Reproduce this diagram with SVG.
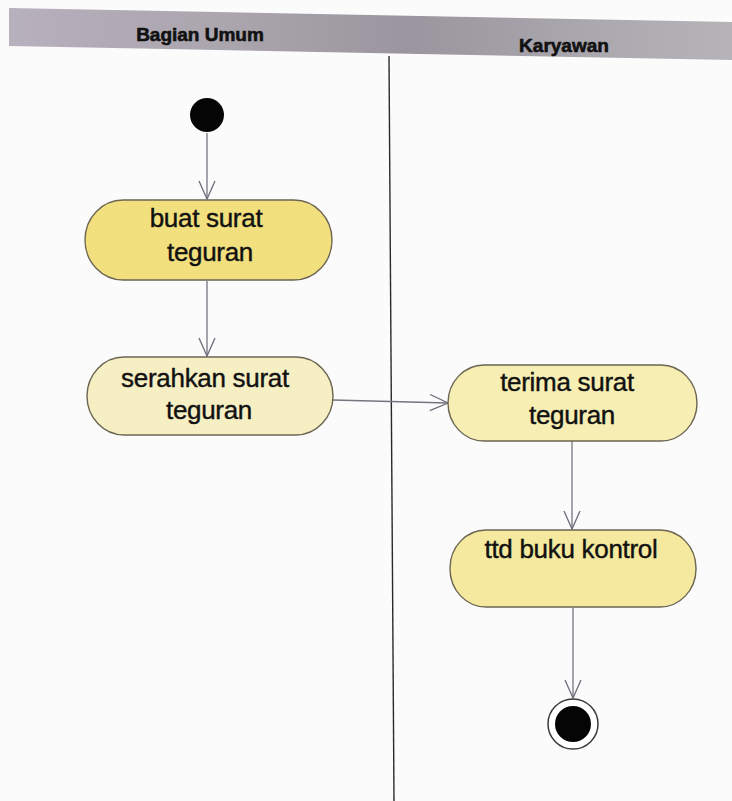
<svg xmlns="http://www.w3.org/2000/svg" width="732" height="801" viewBox="0 0 732 801">
  <defs>
    <linearGradient id="laneHead" x1="0" y1="0" x2="1" y2="0">
      <stop offset="0" stop-color="#b7b0bd"/>
      <stop offset="0.3" stop-color="#aba5ae"/>
      <stop offset="0.55" stop-color="#9a959e"/>
      <stop offset="0.8" stop-color="#aaa7ae"/>
      <stop offset="1" stop-color="#b6b4b8"/>
    </linearGradient>
    <marker id="openArrow" viewBox="0 0 20 20" refX="19" refY="10" markerWidth="20" markerHeight="20" markerUnits="userSpaceOnUse" orient="auto">
      <path d="M1,2 L19,10 L1,18" fill="none" stroke="#6e6a7a" stroke-width="1.3"/>
    </marker>
    <filter id="soft" x="-5%" y="-5%" width="110%" height="110%">
      <feGaussianBlur stdDeviation="0.5"/>
    </filter>
  </defs>
  <style>
    .lane-title { font-family: "Liberation Sans", Arial, sans-serif; font-weight: bold; font-size: 19px; fill: #111; stroke: #111; stroke-width: 0.6; }
    .act { stroke: #6b6552; stroke-width: 1.4; }
    .label { font-family: "Liberation Sans", Arial, sans-serif; font-size: 26px; fill: #111; stroke: #111; stroke-width: 0.4; text-anchor: middle; letter-spacing: -0.3px; }
    .flow { fill: none; stroke: #77737f; stroke-width: 1.3; marker-end: url(#openArrow); }
  </style>

  <rect width="732" height="801" fill="#fbfbfb"/>

  <!-- swimlane header and separator -->
  <g id="swimlanes">
    <polygon points="9,8 732,22 732,60 9,46" fill="url(#laneHead)"/>
    <text class="lane-title" x="200" y="41" text-anchor="middle">Bagian Umum</text>
    <text class="lane-title" x="564" y="52" text-anchor="middle">Karyawan</text>
    <line x1="389" y1="56" x2="394" y2="801" stroke="#2a2a2a" stroke-width="1.4"/>
  </g>

  <!-- connectors -->
  <g id="connectors" filter="url(#soft)">
    <line class="flow" x1="207" y1="133" x2="207" y2="199"/>
    <line class="flow" x1="207" y1="281" x2="207" y2="356"/>
    <line class="flow" x1="333" y1="400" x2="448" y2="403"/>
    <line class="flow" x1="572" y1="441" x2="572" y2="529"/>
    <line class="flow" x1="573" y1="608" x2="573" y2="698"/>
  </g>

  <g id="start">
    <circle cx="207" cy="115" r="17" fill="#050505"/>
  </g>

  <g id="buat-surat-teguran">
    <rect class="act" x="85" y="200" width="247" height="80" rx="38" ry="40" fill="#f2df7e"/>
    <text class="label" x="206" y="227">buat surat</text>
    <text class="label" x="210" y="261">teguran</text>
  </g>

  <g id="serahkan-surat-teguran">
    <rect class="act" x="87" y="357" width="246" height="78" rx="37" ry="39" fill="#f6efc4"/>
    <text class="label" x="205" y="387">serahkan surat</text>
    <text class="label" x="209" y="419">teguran</text>
  </g>

  <g id="terima-surat-teguran">
    <rect class="act" x="448" y="365" width="249" height="76" rx="36" ry="38" fill="#f6eeb3"/>
    <text class="label" x="567" y="391">terima surat</text>
    <text class="label" x="572" y="424">teguran</text>
  </g>

  <g id="ttd-buku-kontrol">
    <rect class="act" x="450" y="530" width="246" height="77" rx="36" ry="38" fill="#f4e99e"/>
    <text class="label" x="571" y="558">ttd buku kontrol</text>
  </g>

  <g id="end">
    <circle cx="573" cy="724" r="25" fill="#ffffff" stroke="#3a3a3a" stroke-width="1.5"/>
    <circle cx="573" cy="724" r="18" fill="#050505"/>
  </g>
</svg>
